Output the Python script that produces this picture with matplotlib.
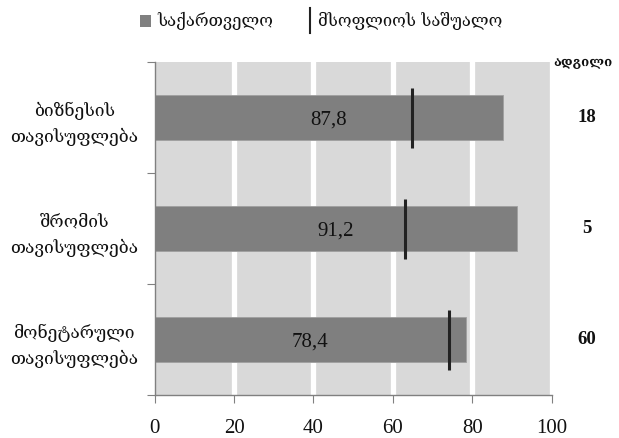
import matplotlib
matplotlib.use("Agg")
import matplotlib.pyplot as plt
from matplotlib.patches import Rectangle
from matplotlib.lines import Line2D

categories = ["ბიზნესის\nთავისუფლება", "შრომის\nთავისუფლება", "მონეტარული\nთავისუფლება"]
georgia = [87.8, 91.2, 78.4]
world_avg = [64.8, 63.0, 74.2]
ranks = ["18", "5", "60"]
value_labels = ["87,8", "91,2", "78,4"]
xticks = [0, 20, 40, 60, 80, 100]
legend_labels = ["საქართველო", "მსოფლიოს საშუალო"]
rank_title = "ადგილი"

GEO = ["DejaVu Serif", "DejaVu Sans"]
NUM = ["Liberation Serif", "DejaVu Serif"]

fig = plt.figure(figsize=(6.19, 4.38), dpi=100)
ax = fig.add_axes([0.25, 0.098, 0.641, 0.760])

# background bands
ax.set_facecolor("white")
for i in range(len(xticks) - 1):
    ax.add_patch(Rectangle((xticks[i], -0.5), xticks[i + 1] - xticks[i], 3.0,
                           facecolor="#d9d9d9", edgecolor="none", zorder=0))
for xt in xticks[1:]:
    ax.axvline(xt, color="white", lw=3.8, zorder=0.5)

ypos = list(range(len(categories)))
ax.barh(ypos, georgia, height=0.4, color="#7f7f7f", edgecolor="#a0a0a0", lw=0.6, zorder=2)
for y, v in zip(ypos, world_avg):
    ax.plot([v, v], [y - 0.27, y + 0.27], color="#222222", lw=2.2, zorder=3,
            solid_capstyle="butt")
for y, v, lab in zip(ypos, georgia, value_labels):
    ax.text(v / 2, y + 0.02, lab, ha="center", va="center", fontsize=15,
            family=NUM, color="#111111", zorder=4)

ax.set_xlim(0, 100)
ax.set_ylim(2.5, -0.5)
ax.set_xticks(xticks)
ax.set_xticklabels([str(t) for t in xticks], family=NUM, fontsize=15, color="#111111")
ax.set_yticks([-0.5, 0.5, 1.5, 2.5])
ax.set_yticklabels([])
ax.set_yticks(ypos, minor=True)
ax.set_yticklabels(categories, minor=True, family=GEO, fontsize=12.5, ha="center",
                   color="#111111", linespacing=1.6)
ax.tick_params(axis="y", which="minor", length=0, pad=58)
ax.tick_params(axis="y", which="major", length=6, color="#808080", direction="out")
ax.tick_params(axis="x", length=6, color="#808080", pad=11)
for s in ["top", "right"]:
    ax.spines[s].set_visible(False)
for s in ["left", "bottom"]:
    ax.spines[s].set_color("#808080")
    ax.spines[s].set_linewidth(1.0)

# right-hand ranks
for y, r in zip(ypos, ranks):
    ax.text(1.09, y, r, transform=ax.get_yaxis_transform(), ha="center", va="center",
            fontsize=13.5, family=NUM, fontweight="bold", color="#111111")
ax.text(1.08, -0.5, rank_title, transform=ax.get_yaxis_transform(), ha="center",
        va="center", fontsize=9.5, family=GEO, fontweight="bold", color="#111111")

# legend
fig.patches.append(Rectangle((140 / 619, 1 - 27 / 438), 11 / 619, 12 / 438,
                             transform=fig.transFigure, facecolor="#808080", edgecolor="none"))
fig.text(157 / 619, 1 - 21 / 438, legend_labels[0], ha="left", va="center",
         family=GEO, fontsize=12, color="#111111")
fig.lines.append(Line2D([310 / 619, 310 / 619], [1 - 33 / 438, 1 - 8 / 438],
                        transform=fig.transFigure, color="#222222", lw=1.5))
fig.text(318 / 619, 1 - 21 / 438, legend_labels[1], ha="left", va="center",
         family=GEO, fontsize=12, color="#111111")

fig.savefig("out.png", dpi=100, facecolor="white")
